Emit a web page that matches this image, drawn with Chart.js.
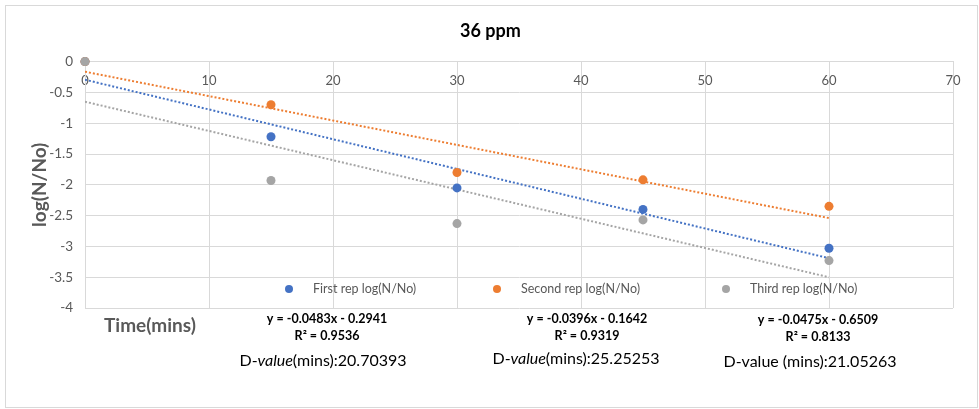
<!DOCTYPE html>
<html>
<head>
<meta charset="utf-8">
<script src="https://cdn.jsdelivr.net/npm/chart.js@4.4.0/dist/chart.umd.min.js"></script>
<style>
  html, body { margin: 0; padding: 0; background: #fff; }
  #wrap { position: relative; width: 979px; height: 409px; }
</style>
</head>
<body>
<div id="wrap"><canvas id="chart" width="979" height="409"></canvas></div>
<script>
// Sampling times (minutes)
const times = [0, 15, 30, 45, 60];

// log(N/No) for each replicate
const firstRep = [0, -1.22, -2.05, -2.40, -3.03];
const secondRep = [0, -0.70, -1.80, -1.92, -2.35];
const thirdRep = [0, -1.93, -2.63, -2.57, -3.23];

const seriesLabels = ['First rep log(N/No)', 'Second rep log(N/No)', 'Third rep log(N/No)'];
const seriesColors = ['#4472C4', '#ED7D31', '#A5A5A5'];

// Linear trendlines as reported on the chart
const slopes = [-0.0483, -0.0396, -0.0475];
const intercepts = [-0.2941, -0.1642, -0.6509];
const equations = ['y = -0.0483x - 0.2941', 'y = -0.0396x - 0.1642', 'y = -0.0475x - 0.6509'];
const rSquared = ['R² = 0.9536', 'R² = 0.9319', 'R² = 0.8133'];
const dValues = ['20.70393', '25.25253', '21.05263'];

const FONT = 'Lato, "Open Sans", sans-serif';
const GREY_TEXT = '#595959';

function toPoints(ys) {
    return times.map((t, i) => ({ x: t, y: ys[i] }));
}

function trendPoints(k) {
    const x0 = times[0];
    const x1 = times[times.length - 1];
    return [
        { x: x0, y: slopes[k] * x0 + intercepts[k] },
        { x: x1, y: slopes[k] * x1 + intercepts[k] }
    ];
}

const pointSets = [firstRep, secondRep, thirdRep];

const datasets = [];
pointSets.forEach((ys, k) => {
    datasets.push({
        label: seriesLabels[k],
        data: toPoints(ys),
        backgroundColor: seriesColors[k],
        borderColor: seriesColors[k],
        pointRadius: 4.5,
        pointBorderWidth: 0,
        showLine: false,
        clip: false,
        order: 3 - k
    });
});
pointSets.forEach((ys, k) => {
    datasets.push({
        label: 'trend' + k,
        data: trendPoints(k),
        borderColor: seriesColors[k],
        borderWidth: 2,
        borderDash: [2, 2],
        pointRadius: 0,
        showLine: true,
        order: 6 - k
    });
});

/**
 * Draws the outer frame, the legend inside the plot and the trendline notes.
 */
const annotations = {
    id: 'annotations',
    beforeDraw(chart) {
        const ctx = chart.ctx;
        ctx.save();
        ctx.strokeStyle = '#d9d9d9';
        ctx.lineWidth = 1;
        ctx.strokeRect(5.5, 5.5, 972, 402);
        ctx.restore();
    },
    afterDraw(chart) {
        const ctx = chart.ctx;
        const area = chart.chartArea;
        ctx.save();

        // legend sitting near the bottom of the plot
        const legendY = area.bottom - 19;
        const legendX = [289, 497, 726];
        ctx.font = '12.5px ' + FONT;
        ctx.textBaseline = 'middle';
        ctx.textAlign = 'left';
        seriesLabels.forEach((label, k) => {
            ctx.fillStyle = seriesColors[k];
            ctx.beginPath();
            ctx.arc(legendX[k], legendY, 4, 0, Math.PI * 2);
            ctx.fill();
            ctx.fillStyle = GREY_TEXT;
            ctx.fillText(label, legendX[k] + 24, legendY);
        });

        // x axis title
        ctx.font = 'bold 19px ' + FONT;
        ctx.fillStyle = GREY_TEXT;
        ctx.textAlign = 'center';
        ctx.fillText('Time(mins)', 150, 326);

        // equations
        const eqX = [327, 587, 818];
        const eqY = [319, 319, 320];
        ctx.fillStyle = '#000';
        ctx.font = 'bold 12.5px ' + FONT;
        equations.forEach((eq, k) => {
            ctx.fillText(eq, eqX[k], eqY[k]);
            ctx.fillText(rSquared[k], eqX[k], eqY[k] + 17);
        });

        // D-values, the first two with "value" in italics
        const dX = [323, 576, 810];
        const dY = [361, 359, 362];
        const plain = '16px ' + FONT;
        const italic = 'italic 16px ' + FONT;
        dValues.forEach((val, k) => {
            const parts = k < 2
                ? [['D-', plain], ['value', italic], ['(mins):' + val, plain]]
                : [['D-value (mins):' + val, plain]];
            let total = 0;
            parts.forEach(p => { ctx.font = p[1]; total += ctx.measureText(p[0]).width; });
            let x = dX[k] - total / 2;
            ctx.textAlign = 'left';
            parts.forEach(p => {
                ctx.font = p[1];
                ctx.fillText(p[0], x, dY[k]);
                x += ctx.measureText(p[0]).width;
            });
            ctx.textAlign = 'center';
        });

        ctx.restore();
    }
};

new Chart(document.getElementById('chart'), {
    type: 'scatter',
    data: { datasets: datasets },
    options: {
        responsive: false,
        animation: false,
        layout: {
            padding: { left: 28, right: 26, top: 10, bottom: 101 }
        },
        plugins: {
            legend: { display: false },
            tooltip: { enabled: false },
            title: {
                display: true,
                text: '36 ppm',
                color: '#000',
                font: { family: FONT, size: 18, weight: 'bold' },
                padding: { top: 10, bottom: 20 }
            }
        },
        scales: {
            x: {
                type: 'linear',
                position: { y: 0 },
                min: 0,
                max: 70,
                ticks: {
                    stepSize: 10,
                    color: GREY_TEXT,
                    font: { family: FONT, size: 13 },
                    padding: 11
                },
                grid: { color: '#d9d9d9', drawTicks: false },
                border: { color: '#d9d9d9' }
            },
            y: {
                type: 'linear',
                min: -4,
                max: 0,
                afterFit(scale) { scale.width = 57; },
                ticks: {
                    stepSize: 0.5,
                    color: GREY_TEXT,
                    font: { family: FONT, size: 13.5 },
                    padding: 12,
                    callback: v => String(v)
                },
                grid: { color: '#d9d9d9', drawTicks: false },
                border: { color: '#d9d9d9' },
                title: {
                    display: true,
                    text: 'log(N/No)',
                    color: GREY_TEXT,
                    font: { family: FONT, size: 19, weight: 'bold' },
                    padding: 0
                }
            }
        }
    },
    plugins: [annotations]
});
</script>
</body>
</html>
